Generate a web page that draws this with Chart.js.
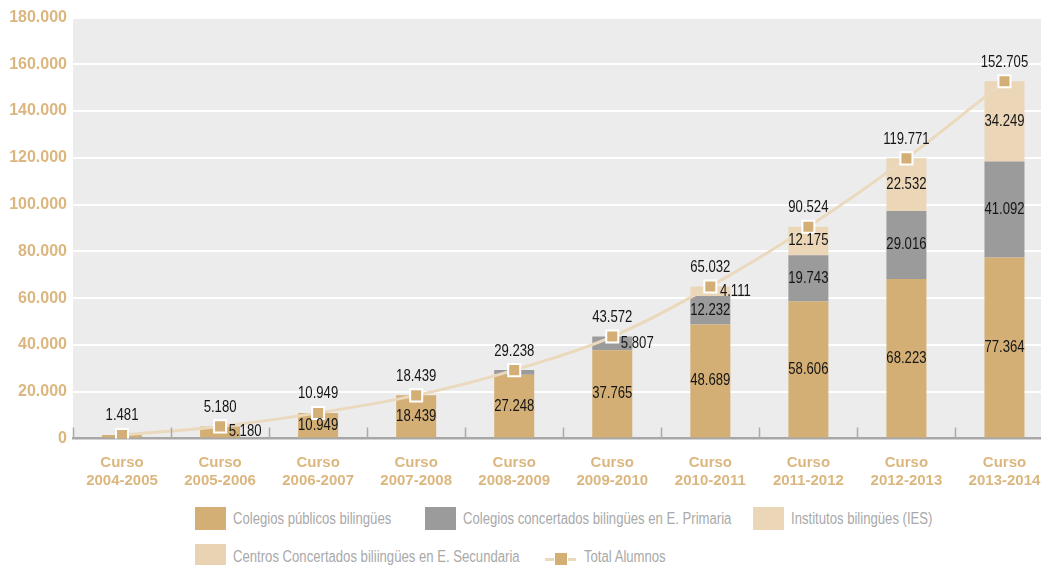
<!DOCTYPE html>
<html><head><meta charset="utf-8">
<script src="https://cdn.jsdelivr.net/npm/chart.js@4.4.0/dist/chart.umd.min.js"></script>
<style>
html,body{margin:0;padding:0;background:#fff;overflow:hidden;width:1041px;height:565px;}
#wrap{position:absolute;left:0;top:0;width:1064px;height:495px;}
.lg{position:absolute;font-family:"Liberation Sans",Arial,sans-serif;font-size:16px;color:#a9a9a9;white-space:nowrap;line-height:16px;transform:scaleX(0.82);transform-origin:0 0;}
.sw{position:absolute;width:31px;height:23px;}
</style></head><body>
<div id="wrap"><canvas id="c" width="1064" height="495"></canvas></div>
<div id="legend"></div>
<script>
const categories = [
  ['Curso','2004-2005'],['Curso','2005-2006'],['Curso','2006-2007'],['Curso','2007-2008'],['Curso','2008-2009'],
  ['Curso','2009-2010'],['Curso','2010-2011'],['Curso','2011-2012'],['Curso','2012-2013'],['Curso','2013-2014']
];
const colegiosPublicos   = [1481, 5180, 10949, 18439, 27248, 37765, 48689, 58606, 68223, 77364];
const colegiosConcertados = [0, 0, 0, 0, 1990, 5807, 12232, 19743, 29016, 41092];
const institutosIES      = [0, 0, 0, 0, 0, 0, 4111, 12175, 22532, 34249];
const centrosConcertadosSec = [0, 0, 0, 0, 0, 0, 0, 0, 0, 0];
const totalAlumnos       = [1481, 5180, 10949, 18439, 29238, 43572, 65032, 90524, 119771, 152705];
const yTicks = [0, 20000, 40000, 60000, 80000, 100000, 120000, 140000, 160000, 180000];

const seriesNames = ['Colegios públicos bilingües','Colegios concertados bilingües en E. Primaria','Institutos bilingües (IES)','Centros Concertados biliingües en E. Secundaria','Total Alumnos'];
const colors = ['#d4af75','#9b9b9b','#ebd6b8','#e9d3b3'];
const lineColor = '#ebd9bd';

function fmt(v){ return String(v).replace(/\B(?=(\d{3})+(?!\d))/g,'.'); }

const sans = '"Liberation Sans",Arial,sans-serif';

const bgPlugin = {
  id:'bg',
  beforeDraw(chart){
    const {ctx, chartArea:a} = chart;
    ctx.save(); ctx.fillStyle='#ececec';
    ctx.fillRect(a.left, a.top, chart.width - a.left, a.bottom - a.top);
    ctx.restore();
  },
  afterDraw(chart){
    const {ctx, chartArea:a} = chart;
    const n = categories.length, w = (a.right - a.left)/n;
    ctx.save(); ctx.strokeStyle='#ababab'; ctx.lineWidth=1.5;
    for(let i=0;i<=n;i++){
      const x = Math.round(a.left + i*w)+0.5;
      ctx.beginPath(); ctx.moveTo(x, a.bottom-11); ctx.lineTo(x, a.bottom); ctx.stroke();
    }
    ctx.restore();
  }
};

function narrowText(ctx, text, x, y){
  ctx.save();
  ctx.translate(x, y);
  ctx.scale(0.82, 1);
  ctx.fillText(text, 0, 0);
  ctx.restore();
}

const labelPlugin = {
  id:'labels',
  afterDatasetsDraw(chart){
    const ctx = chart.ctx;
    ctx.save();
    ctx.font = '16px ' + sans;
    ctx.fillStyle = '#151515';
    ctx.textBaseline = 'middle';
    ctx.textAlign = 'center';
    for(let d=0; d<4; d++){
      const meta = chart.getDatasetMeta(d);
      const data = chart.data.datasets[d].data;
      meta.data.forEach((el,j)=>{
        const v = data[j]; if(!v) return;
        const h = el.base - el.y;
        if(h < 5) return;
        const mid = (el.base + el.y)/2;
        if(h < 16) narrowText(ctx, fmt(v), el.x + 25, mid);
        else narrowText(ctx, fmt(v), el.x, mid);
      });
    }
    const lm = chart.getDatasetMeta(4);
    lm.data.forEach((pt,j)=>{ narrowText(ctx, fmt(totalAlumnos[j]), pt.x, pt.y - 19); });
    ctx.restore();
  }
};

const barBase = {type:'bar', barPercentage:0.408, categoryPercentage:1, stack:'s', order:1, borderWidth:0};
new Chart(document.getElementById('c'), {
  data:{
    labels: categories,
    datasets:[
      Object.assign({label:seriesNames[0], data:colegiosPublicos, backgroundColor:colors[0]}, barBase),
      Object.assign({label:seriesNames[1], data:colegiosConcertados, backgroundColor:colors[1]}, barBase),
      Object.assign({label:seriesNames[2], data:institutosIES, backgroundColor:colors[2]}, barBase),
      Object.assign({label:seriesNames[3], data:centrosConcertadosSec, backgroundColor:colors[3]}, barBase),
      {type:'line', label:seriesNames[4], data:totalAlumnos, borderColor:lineColor, borderWidth:3, tension:0.35,
       pointStyle:'rect', pointRadius:8.5, pointHoverRadius:8.5, pointBorderWidth:2, pointBorderColor:'#ffffff',
       pointBackgroundColor:'#d4af75', order:0, stack:'line'}
    ]
  },
  options:{
    responsive:false, animation:false, devicePixelRatio:1,
    layout:{padding:{top:17.5,left:0,right:0,bottom:0}},
    plugins:{legend:{display:false}, tooltip:{enabled:false}},
    scales:{
      x:{stacked:true,
         grid:{display:true,color:'rgba(0,0,0,0)',drawTicks:false},
         border:{display:true,color:'#a7a7a7',width:2.5},
         ticks:{color:'#dbb77f',font:{family:sans,size:15,weight:'bold'},padding:15,maxRotation:0,autoSkip:false},
         afterFit(s){ s.height = 56.5; }
      },
      y:{stacked:true, min:0, max:180000,
         grid:{color:'#ffffff',lineWidth:2,drawTicks:false},
         border:{display:false},
         afterBuildTicks(s){ s.ticks = yTicks.map(v=>({value:v})); },
         ticks:{color:'#dbb77f',font:{family:sans,size:16,weight:'bold'},padding:6,
                callback:(v)=>fmt(v)},
         afterFit(s){ s.width = 73; }
      }
    }
  },
  plugins:[bgPlugin,labelPlugin]
});

// HTML legend
const legendLayout = [
  {i:0, box:[195,507], text:[233,511]},
  {i:1, box:[425,507], text:[463,511]},
  {i:2, box:[753,507], text:[791,511]},
  {i:3, box:[195,544], text:[233,549]},
  {i:4, line:[545,559], text:[584,549]}
];
const lg = document.getElementById('legend');
legendLayout.forEach(it=>{
  if(it.box){
    const b=document.createElement('div'); b.className='sw';
    b.style.left=it.box[0]+'px'; b.style.top=it.box[1]+'px'; b.style.background=colors[it.i]; lg.appendChild(b);
  } else {
    const l=document.createElement('div');
    l.style.cssText='position:absolute;left:'+it.line[0]+'px;top:'+(it.line[1]-1.5)+'px;width:31px;height:3px;background:'+lineColor;
    lg.appendChild(l);
    const m=document.createElement('div');
    m.style.cssText='position:absolute;left:'+(it.line[0]+9)+'px;top:'+(it.line[1]-7)+'px;width:12px;height:12px;background:#d4af75;border:1px solid #fff;';
    lg.appendChild(m);
  }
  const t=document.createElement('div'); t.className='lg';
  t.style.left=it.text[0]+'px'; t.style.top=it.text[1]+'px'; t.textContent=seriesNames[it.i]; lg.appendChild(t);
});
</script>
</body></html>
